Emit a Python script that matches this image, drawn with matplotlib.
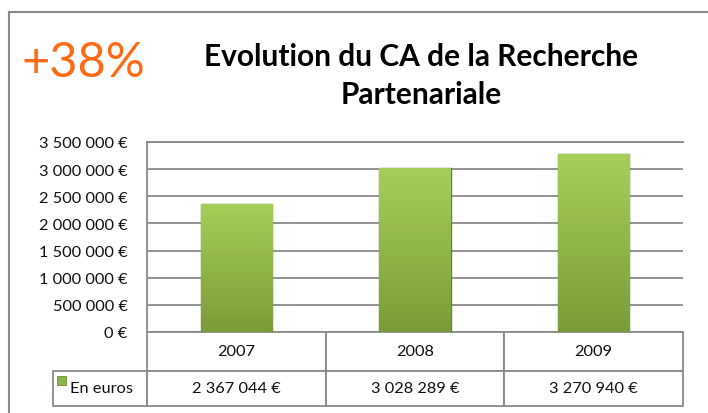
import numpy as np
import matplotlib.pyplot as plt
from matplotlib.colors import LinearSegmentedColormap
from matplotlib.lines import Line2D
from matplotlib.patches import Rectangle
from matplotlib.table import Table

# Données
annees = ["2007", "2008", "2009"]
ca_euros = [2367044, 3028289, 3270940]
graduations = [0, 500000, 1000000, 1500000, 2000000, 2500000, 3000000, 3500000]
serie = "En euros"
titre = "Evolution du CA de la Recherche\nPartenariale"
hausse = "+38%"


def euros(v):
    return f"{v:,}".replace(",", " ") + " €"


def main():
    plt.rcParams["font.family"] = ["Lato", "DejaVu Sans"]
    gris = "#8a8a8a"
    vert_cmap = LinearSegmentedColormap.from_list("vert", ["#7a9c38", "#a7ce58"])

    fig = plt.figure(figsize=(7.08, 4.14), dpi=100)
    ax = fig.add_axes([147 / 708, 81 / 414, 536 / 708, 190 / 414])

    x = np.arange(len(annees))
    barres = ax.bar(x, ca_euros, width=0.40, color="#8db446",
                    edgecolor="#66852e", linewidth=1.0, zorder=3)

    # dégradé vertical dans chaque barre
    degrade = np.linspace(0, 1, 100).reshape(-1, 1)
    for b in barres:
        im = ax.imshow(degrade, cmap=vert_cmap,
                       extent=[b.get_x(), b.get_x() + b.get_width(), 0, b.get_height()],
                       aspect="auto", origin="lower", zorder=3.5)
        im.set_clip_path(b)

    ax.set_xlim(-0.5, len(annees) - 0.5)
    ax.set_ylim(graduations[0], graduations[-1])
    ax.set_yticks(graduations)
    ax.set_yticklabels([euros(g) for g in graduations], fontsize=11.8, color="#111111")
    ax.tick_params(axis="y", length=0, pad=14)
    ax.set_xticks([])
    ax.yaxis.grid(True, color=gris, linewidth=1.3, zorder=0)
    for s in ["right", "bottom"]:
        ax.spines[s].set_visible(False)
    for s in ["left", "top"]:
        ax.spines[s].set_color(gris)
        ax.spines[s].set_linewidth(1.3)

    # tableau de données sous l'axe (la colonne des libellés déborde à gauche)
    larg_label = 94 / 536
    haut = 74 / 190
    tab = Table(ax, bbox=[0, -haut, 1, haut])
    for j, a in enumerate(annees):
        tab.add_cell(0, j, width=1 / 3, height=39, text=a, loc="center")
    c = tab.add_cell(1, -1, width=larg_label, height=35, text=serie, loc="left")
    c.PAD = 0.18
    for j, v in enumerate(ca_euros):
        tab.add_cell(1, j, width=1 / 3, height=35, text=euros(v), loc="center")
    tab.auto_set_font_size(False)
    for cell in tab.get_celld().values():
        cell.set_edgecolor(gris)
        cell.set_linewidth(1.3)
        cell.get_text().set_fontsize(11.8)
        cell.get_text().set_color("#111111")
    ax.add_table(tab)

    # carré de légende
    fig.add_artist(Rectangle((57 / 708, 1 - 386 / 414), 9 / 708, 9 / 414,
                             facecolor="#8db446", edgecolor="#6f8f33", linewidth=0.6))

    # titre et pourcentage
    fig.text(421 / 708, 1 - 76 / 414, titre, ha="center", va="center",
             fontsize=21.5, fontweight="bold", linespacing=1.45, color="#000000")
    fig.text(21 / 708, 1 - 63 / 414, hausse, ha="left", va="center",
             fontsize=35, fontweight="normal", color="#ff6a13")

    # cadre extérieur
    fig.add_artist(Line2D([9 / 708, 9 / 708], [0, 1 - 13 / 414], color=gris, linewidth=1.5))
    fig.add_artist(Line2D([9 / 708, 1], [1 - 13 / 414, 1 - 13 / 414], color=gris, linewidth=1.5))

    fig.savefig("out.png", dpi=100)


if __name__ == "__main__":
    main()
